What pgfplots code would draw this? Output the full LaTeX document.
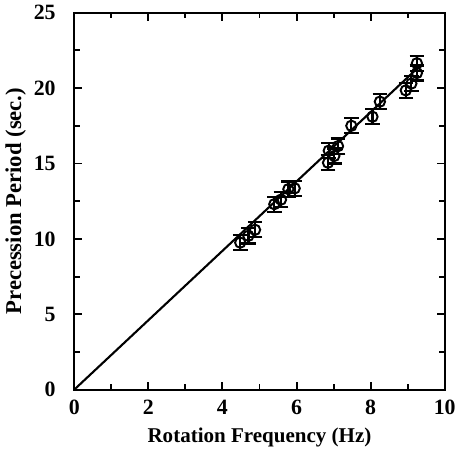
\documentclass[border=0pt]{standalone}
\usepackage{fontspec}
\setmainfont{Liberation Serif}
\usepackage{pgfplots}
\pgfplotsset{compat=1.18}

\begin{document}
\begin{tikzpicture}
  \begin{axis}[
    scale only axis,
    width=229pt, height=233pt,
    xmin=0, xmax=10, ymin=0, ymax=25,
    xtick={0,2,...,10}, ytick={0,5,...,25},
    minor x tick num=1, minor y tick num=1,
    tick align=inside,
    major tick length=5pt, minor tick length=3.5pt,
    every tick/.style={line width=1.2pt, black},
    axis line style={line width=1.3pt},
    tick label style={font=\fontsize{13.5}{15}\selectfont\bfseries},
    /pgf/number format/assume math mode=true,
    yticklabel style={xshift=-8pt},
    xticklabel style={yshift=-3pt},
    label style={font=\fontsize{13}{15}\selectfont\bfseries},
    xlabel={Rotation Frequency (Hz)},
    ylabel={Precession Period (sec.)},
    xlabel style={yshift=-1pt},
    ylabel style={yshift=-2pt, font=\fontsize{14}{16}\selectfont\bfseries},
  ]
    \addplot[black, line width=1.3pt] coordinates {(0,0) (9.3,21.4)};
    \addplot[black, only marks, mark=o, line width=1.2pt,
      mark options={scale=1.6, fill=white},
      error bars/.cd, y dir=both, y explicit,
      error bar style={line width=1.4pt},
      error mark options={rotate=90, mark size=4.5pt, line width=1.4pt}]
      coordinates {
        (4.48,9.75) +- (0,0.5)
        (4.70,10.20) +- (0,0.5)
        (4.88,10.60) +- (0,0.5)
        (5.40,12.30) +- (0,0.5)
        (5.58,12.60) +- (0,0.5)
        (5.78,13.30) +- (0,0.5)
        (5.95,13.35) +- (0,0.5)
        (6.85,15.05) +- (0,0.5)
        (6.87,15.85) +- (0,0.5)
        (7.02,15.50) +- (0,0.5)
        (7.12,16.15) +- (0,0.5)
        (7.48,17.50) +- (0,0.5)
        (8.05,18.10) +- (0,0.5)
        (8.25,19.10) +- (0,0.5)
        (8.95,19.85) +- (0,0.5)
        (9.10,20.30) +- (0,0.5)
        (9.25,21.00) +- (0,0.5)
        (9.25,21.65) +- (0,0.5)
      };
  \end{axis}
\end{tikzpicture}
\end{document}
